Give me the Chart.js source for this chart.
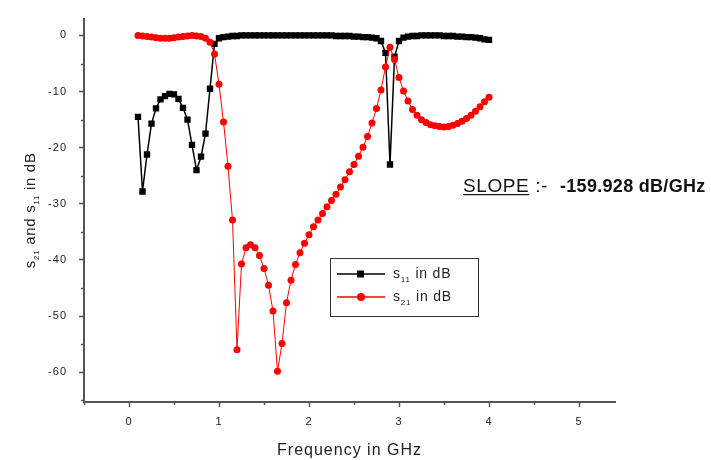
<!DOCTYPE html>
<html>
<head>
<meta charset="utf-8">
<script src="https://cdn.jsdelivr.net/npm/chart.js@4.4.0/dist/chart.umd.min.js"></script>
<style>
  html, body { margin: 0; padding: 0; background: #fff; }
  #wrap { width: 711px; height: 460px; }
</style>
</head>
<body>
<div id="wrap"><canvas id="sChart" width="711" height="460"></canvas></div>
<script>
// frequency points, GHz
var freq = [0.10, 0.15, 0.20, 0.25, 0.30, 0.35, 0.40, 0.45, 0.50, 0.55, 0.60, 0.65, 0.70, 0.75, 0.80, 0.85, 0.90, 0.95,
            1.00, 1.05, 1.10, 1.15, 1.20, 1.25, 1.30, 1.35, 1.40, 1.45, 1.50, 1.55, 1.60, 1.65, 1.70, 1.75, 1.80, 1.85, 1.90, 1.95,
            2.00, 2.05, 2.10, 2.15, 2.20, 2.25, 2.30, 2.35, 2.40, 2.45, 2.50, 2.55, 2.60, 2.65, 2.70, 2.75, 2.80, 2.85, 2.90, 2.95,
            3.00, 3.05, 3.10, 3.15, 3.20, 3.25, 3.30, 3.35, 3.40, 3.45, 3.50, 3.55, 3.60, 3.65, 3.70, 3.75, 3.80, 3.85, 3.90, 3.95,
            4.00];

// s11 in dB
var s11 = [-14.5, -27.8, -21.2, -15.7, -13.0, -11.4, -10.8, -10.4, -10.5, -11.3, -12.9, -15.0, -19.5, -24.0, -21.6, -17.5, -9.5, -1.5,
           -0.5, -0.3, -0.2, -0.1, -0.1, 0, 0, 0, 0, 0, 0, 0, 0, 0, 0, 0, 0, 0, 0, 0,
           0, 0, 0, 0, 0, 0, -0.1, -0.1, -0.1, -0.1, -0.2, -0.2, -0.3, -0.3, -0.4, -0.5, -1.0, -3.1, -23.0, -3.8,
           -1.0, -0.4, -0.2, -0.1, -0.1, 0, 0, 0, 0, 0, -0.1, -0.1, -0.1, -0.2, -0.2, -0.3, -0.3, -0.4, -0.5, -0.7,
           -0.8];

// s21 in dB
var s21 = [0, -0.1, -0.2, -0.3, -0.4, -0.5, -0.5, -0.5, -0.4, -0.3, -0.2, -0.1, 0, -0.1, -0.2, -0.5, -1.2, -3.3,
           -8.7, -15.4, -23.3, -32.9, -56.0, -40.7, -37.8, -37.3, -37.8, -39.2, -41.5, -44.5, -49.1, -59.8, -54.9, -47.6, -43.6, -40.8, -38.7, -37.0,
           -35.5, -34.1, -32.9, -31.7, -30.5, -29.4, -28.3, -27.0, -25.7, -24.3, -23.0, -21.5, -19.9, -18.0, -15.6, -13.0, -9.7, -5.6, -2.1, -4.3,
           -7.5, -9.9, -11.7, -13.2, -14.2, -15.0, -15.5, -15.9, -16.1, -16.2, -16.3, -16.2, -16.0, -15.7, -15.3, -14.8, -14.2, -13.5, -12.7, -11.8,
           -11.0];

var xTicks = [0, 1, 2, 3, 4, 5];
var yTicks = [0, -10, -20, -30, -40, -50, -60];
var xMinor = [-0.5, 0.5, 1.5, 2.5, 3.5, 4.5];
var yMinor = [-5, -15, -25, -35, -45, -55, -65];

var slopeText = '-159.928 dB/GHz';

function toPoints(ys) {
    return freq.map(function(f, i) { return { x: f, y: ys[i] }; });
}

// text with subscripts: parts = [[text, isSub], ...]
function drawParts(ctx, parts, x, y, size, subSize, spacing) {
    parts.forEach(function(p) {
        ctx.font = (p[1] ? subSize : size) + 'px "Liberation Sans", Arial, sans-serif';
        ctx.letterSpacing = spacing + 'px';
        ctx.fillText(p[0], x, p[1] ? y + 4 : y);
        x += ctx.measureText(p[0]).width;
    });
    ctx.letterSpacing = '0px';
    return x;
}
function partsWidth(ctx, parts, size, subSize, spacing) {
    var w = 0;
    parts.forEach(function(p) {
        ctx.font = (p[1] ? subSize : size) + 'px "Liberation Sans", Arial, sans-serif';
        ctx.letterSpacing = spacing + 'px';
        w += ctx.measureText(p[0]).width;
    });
    ctx.letterSpacing = '0px';
    return w;
}

var extras = {
    id: 'extras',
    beforeDraw: function(chart) {
        chart.ctx.letterSpacing = '1px';
    },
    afterDraw: function(chart) {
        var ctx = chart.ctx;
        var xs = chart.scales.x, ys = chart.scales.y;
        ctx.save();
        ctx.letterSpacing = '0px';

        // minor ticks
        ctx.strokeStyle = '#555';
        ctx.lineWidth = 1.5;
        ctx.beginPath();
        xMinor.forEach(function(v) {
            var px = Math.round(xs.getPixelForValue(v)) + 0.5;
            ctx.moveTo(px, ys.bottom);
            ctx.lineTo(px, ys.bottom + 3);
        });
        yMinor.forEach(function(v) {
            var py = Math.round(ys.getPixelForValue(v)) + 0.5;
            ctx.moveTo(xs.left, py);
            ctx.lineTo(xs.left - 3, py);
        });
        ctx.stroke();

        // y axis title
        ctx.fillStyle = '#222';
        ctx.textBaseline = 'alphabetic';
        ctx.textAlign = 'left';
        var yParts = [['s', false], ['21', true], [' and s', false], ['11', true], [' in dB', false]];
        var w = partsWidth(ctx, yParts, 15, 8, 0.7);
        ctx.save();
        ctx.translate(35, (ys.top + ys.bottom) / 2 + w / 2);
        ctx.rotate(-Math.PI / 2);
        drawParts(ctx, yParts, 0, 0, 15, 8, 0.7);
        ctx.restore();

        // legend
        var lx = 330, ly = 258;
        ctx.strokeStyle = '#333';
        ctx.lineWidth = 1;
        ctx.strokeRect(lx + 0.5, ly + 0.5, 148, 58);
        var rows = [
            { color: '#000', style: 'rect', sub: '11', y: ly + 16 },
            { color: '#ff0000', style: 'circle', sub: '21', y: ly + 39 }
        ];
        rows.forEach(function(r) {
            ctx.strokeStyle = r.color;
            ctx.fillStyle = r.color;
            ctx.lineWidth = 1.5;
            ctx.beginPath();
            ctx.moveTo(lx + 7, r.y);
            ctx.lineTo(lx + 55, r.y);
            ctx.stroke();
            if (r.style === 'rect') {
                ctx.fillRect(lx + 27, r.y - 3.5, 7, 7);
            } else {
                ctx.beginPath();
                ctx.arc(lx + 31, r.y, 4, 0, Math.PI * 2);
                ctx.fill();
            }
            ctx.fillStyle = '#222';
            drawParts(ctx, [['s', false], [r.sub, true], [' in dB', false]], lx + 63, r.y + 4, 14, 8, 0.8);
        });

        // slope annotation
        ctx.fillStyle = '#111';
        ctx.font = '19px "Liberation Sans", Arial, sans-serif';
        ctx.letterSpacing = '0.6px';
        var sx = 463, sy = 192;
        ctx.fillText('SLOPE', sx, sy);
        var sw = ctx.measureText('SLOPE').width;
        ctx.fillRect(sx, sy + 2, sw, 1.2);
        ctx.fillText(' :-', sx + sw, sy);
        ctx.font = 'bold 18px "Liberation Sans", Arial, sans-serif';
        ctx.letterSpacing = '0.3px';
        ctx.fillText(slopeText, 560, sy);

        ctx.restore();
    }
};

var ctx = document.getElementById('sChart').getContext('2d');
var sChart = new Chart(ctx, {
    type: 'scatter',
    data: {
        datasets: [{
            label: 's11 in dB',
            data: toPoints(s11),
            showLine: true,
            borderColor: '#000',
            backgroundColor: '#000',
            borderWidth: 1.5,
            pointStyle: 'rect',
            pointRadius: 4.5,
            pointBorderWidth: 0,
            order: 1
        }, {
            label: 's21 in dB',
            data: toPoints(s21),
            showLine: true,
            borderColor: '#ff0000',
            backgroundColor: '#ff0000',
            borderWidth: 1,
            pointStyle: 'circle',
            pointRadius: 3.5,
            pointBorderWidth: 0,
            order: 0
        }]
    },
    options: {
        responsive: false,
        animation: false,
        layout: { padding: { left: 0, top: 18, right: 96, bottom: 0 } },
        plugins: {
            legend: { display: false },
            tooltip: { enabled: false }
        },
        scales: {
            x: {
                type: 'linear',
                min: -0.5,
                max: 5.4,
                afterBuildTicks: function(scale) {
                    scale.ticks = xTicks.map(function(v) { return { value: v }; });
                },
                afterFit: function(scale) { scale.height = 58; },
                grid: { drawOnChartArea: false, drawTicks: true, tickLength: 5, color: '#555', tickWidth: 1.5 },
                border: { display: true, color: '#555', width: 2 },
                ticks: { color: '#222', font: { family: '"Liberation Sans", Arial, sans-serif', size: 11 }, padding: 8 },
                title: {
                    display: true,
                    text: 'Frequency in GHz',
                    color: '#222',
                    font: { family: '"Liberation Sans", Arial, sans-serif', size: 16 },
                    padding: { top: 0, bottom: 0 }
                }
            },
            y: {
                type: 'linear',
                min: -65.3,
                max: 3,
                afterBuildTicks: function(scale) {
                    scale.ticks = yTicks.map(function(v) { return { value: v }; });
                },
                afterFit: function(scale) { scale.width = 84; },
                grid: { drawOnChartArea: false, drawTicks: true, tickLength: 5, color: '#555', tickWidth: 1.5 },
                border: { display: true, color: '#555', width: 2 },
                ticks: { color: '#222', font: { family: '"Liberation Sans", Arial, sans-serif', size: 11 }, padding: 12 }
            }
        }
    },
    plugins: [extras]
});
</script>
</body>
</html>
